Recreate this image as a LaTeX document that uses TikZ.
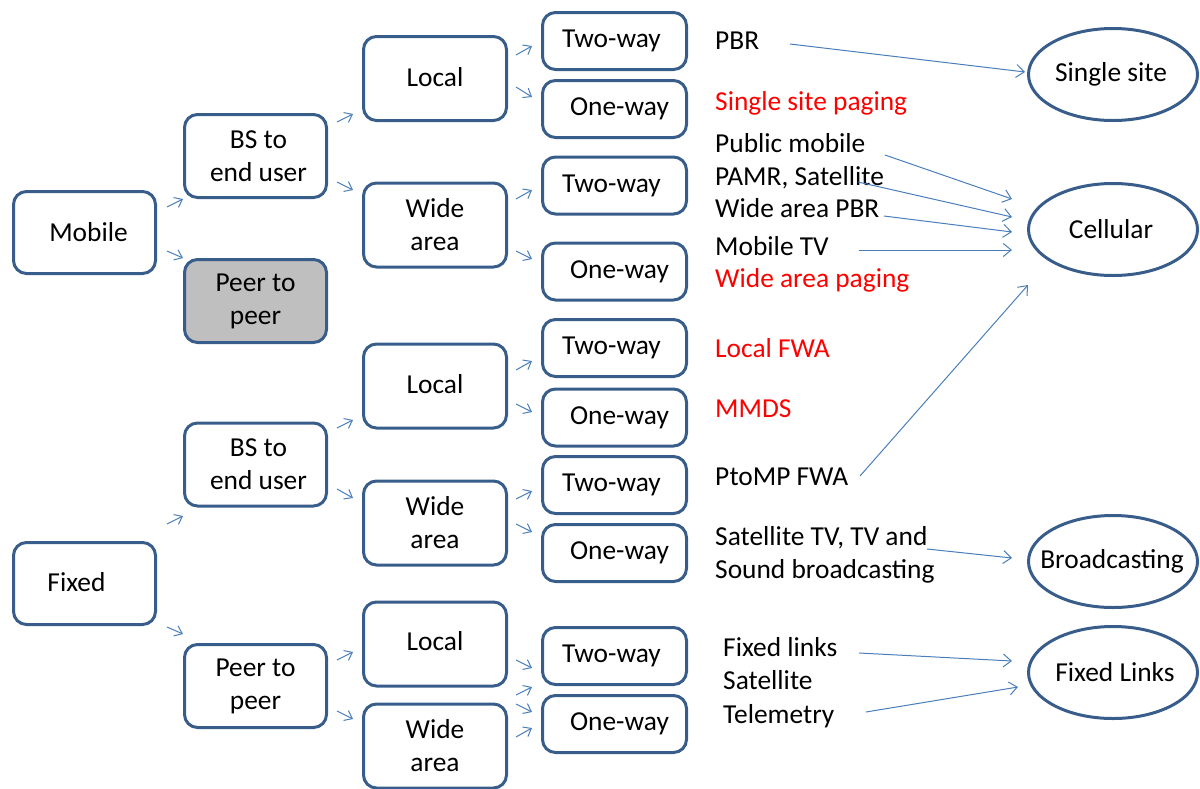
\documentclass[tikz,border=0pt]{standalone}
\usepackage{fontspec}
\setmainfont{Carlito}
\usetikzlibrary{arrows.meta,shapes.geometric}
\definecolor{boxc}{HTML}{385D8A}
\definecolor{arrc}{HTML}{4A7EBB}
\definecolor{greyf}{HTML}{BFBFBF}
\definecolor{redt}{HTML}{FF0000}
\newcommand{\bigfont}{\fontsize{27.4}{33}\selectfont}
\tikzset{
  box/.style={draw=boxc, line width=3pt, rounded corners=13pt, rectangle, inner sep=0pt, align=center, font=\bigfont, text=black},
  c1/.style={box, minimum width=142pt, minimum height=82pt},
  c2/.style={box, minimum width=142pt, minimum height=83pt},
  c3/.style={box, minimum width=143pt, minimum height=84pt},
  c4/.style={box, minimum width=144pt, minimum height=57pt},
  ellc/.style={draw=boxc, line width=3pt},
  etext/.style={inner sep=0pt, font=\bigfont, text=black},
  lab/.style={anchor=base west, inner sep=0pt, font=\bigfont, text=black},
  rlab/.style={lab, text=redt},
  arr/.style={draw=arrc, line width=1pt, -{Straight Barb[length=8pt,width=13pt]}},
  sarr/.style={draw=arrc, line width=1pt, -{Straight Barb[length=7pt,width=11pt]}}
}
\newcommand{\tw}{\raisebox{3pt}{Two-way}\hspace*{6pt}}
\newcommand{\ow}{\hspace*{10pt}\raisebox{3pt}{One-way}}
\begin{document}
\begin{tikzpicture}[x=1pt,y=-1pt]
\useasboundingbox (0,0) rectangle (1200,788);
\clip (0,0) rectangle (1200,788);
% column 1
\node[c1] (mob) at (84.5,232.5) {\hspace*{8pt}Mobile};
\node[c1] (fix) at (84.5,583.5) {\raisebox{4pt}{Fixed}\hspace*{16pt}};
% column 2
\node[c2] (bs1) at (255.5,156) {\hspace*{6pt}BS to\\\hspace*{6pt}end user};
\node[c2, fill=greyf] (pp1) at (255.5,301) {Peer to\\peer};
\node[c2] (bs2) at (255.5,464.5) {\hspace*{6pt}BS to\\\hspace*{6pt}end user};
\node[c2] (pp2) at (255.5,686) {Peer to\\peer};
% column 3
\node[c3] (lo1) at (435,78.5) {\raisebox{4pt}{Local}};
\node[c3] (wi1) at (435,225) {Wide\\area};
\node[c3] (lo2) at (435,386) {\raisebox{4pt}{Local}};
\node[c3] (wi2) at (435,523) {Wide\\area};
\node[c3] (lo3) at (435,644) {\raisebox{6pt}{Local}};
\node[c3] (wi3) at (435,746) {Wide\\area};
% column 4
\node[c4] (t1) at (614.5,41) {\tw};
\node[c4] (o1) at (614.5,109) {\ow};
\node[c4] (t2) at (614.5,185.5) {\tw};
\node[c4] (o2) at (614.5,271.5) {\ow};
\node[c4] (t3) at (614.5,348) {\tw};
\node[c4] (o3) at (614.5,417.5) {\ow};
\node[c4] (t4) at (614.5,485) {\tw};
\node[c4] (o4) at (614.5,553) {\ow};
\node[c4] (t5) at (614.5,656) {\tw};
\node[c4] (o5) at (614.5,724) {\ow};
% ellipses
\draw[ellc] (1113,74.5) ellipse [x radius=84.5, y radius=46];
\node[etext] (ss) at (1111,74.5) {Single site};
\draw[ellc] (1113,229.5) ellipse [x radius=84.5, y radius=46];
\node[etext] (cel) at (1111,229.5) {Cellular};
\draw[ellc] (1113,561.5) ellipse [x radius=84.5, y radius=46];
\node[etext] (bro) at (1112,561.5) {Broadcasting};
\draw[ellc] (1113,672.5) ellipse [x radius=84.5, y radius=46];
\node[etext] (fl) at (1115,672.5) {Fixed Links};
% labels
\node[lab] (pbr) at (715,49) {PBR};
\node[rlab] (ssp) at (715,110) {Single site paging};
\node[lab] (pub) at (715,152) {Public mobile};
\node[lab] (pamr) at (715,185) {PAMR, Satellite};
\node[lab] (wpbr) at (715,217) {Wide area PBR};
\node[lab] (mtv) at (715,255) {Mobile TV};
\node[rlab] (wap) at (715,287) {Wide area paging};
\node[rlab] (lfwa) at (715,357) {Local FWA};
\node[rlab] (mmds) at (715,417) {MMDS};
\node[lab] (ptmp) at (715,485) {PtoMP FWA};
\node[lab] (stv) at (715,545) {Satellite TV, TV and};
\node[lab] (sbc) at (715,578) {Sound broadcasting};
\node[lab] (fli) at (723,656) {Fixed links};
\node[lab] (sat) at (723,689) {Satellite};
\node[lab] (tel) at (723,723) {Telemetry};
% long connectors
\draw[arr] (790,44) -- (1025,72);
\draw[arr] (885,155) -- (1012,199);
\draw[arr] (858,182) -- (1012,217);
\draw[arr] (884,216) -- (1012,232);
\draw[arr] (859,250) -- (1012,250);
\draw[arr] (860,476) -- (1028,285);
\draw[arr] (927,549) -- (1012,558);
\draw[arr] (859,653) -- (1012,661);
\draw[arr] (866,712) -- (1018,687);
% short connectors column 1 -> 2
\draw[sarr] (167,207) -- (183,199);
\draw[sarr] (167,251) -- (183,258);
\draw[sarr] (167,524) -- (183,516);
\draw[sarr] (167,627) -- (183,634);
% column 2 -> 3
\draw[sarr] (337,122) -- (353,114);
\draw[sarr] (337,182) -- (353,190);
\draw[sarr] (337,428) -- (353,420);
\draw[sarr] (337,489) -- (353,498);
\draw[sarr] (337,660) -- (353,652);
\draw[sarr] (337,711) -- (353,719);
% column 3 -> 4
\draw[sarr] (516,55) -- (532,46);
\draw[sarr] (516,87) -- (532,97);
\draw[sarr] (516,199) -- (532,190);
\draw[sarr] (516,251) -- (532,259);
\draw[sarr] (516,370) -- (532,361);
\draw[sarr] (516,404) -- (532,412);
\draw[sarr] (516,499) -- (532,491);
\draw[sarr] (516,524) -- (532,532);
\draw[sarr] (516,660) -- (532,668);
\draw[sarr] (516,695) -- (532,687);
\draw[sarr] (516,704) -- (532,712);
\draw[sarr] (516,737) -- (532,728);
\end{tikzpicture}
\end{document}
